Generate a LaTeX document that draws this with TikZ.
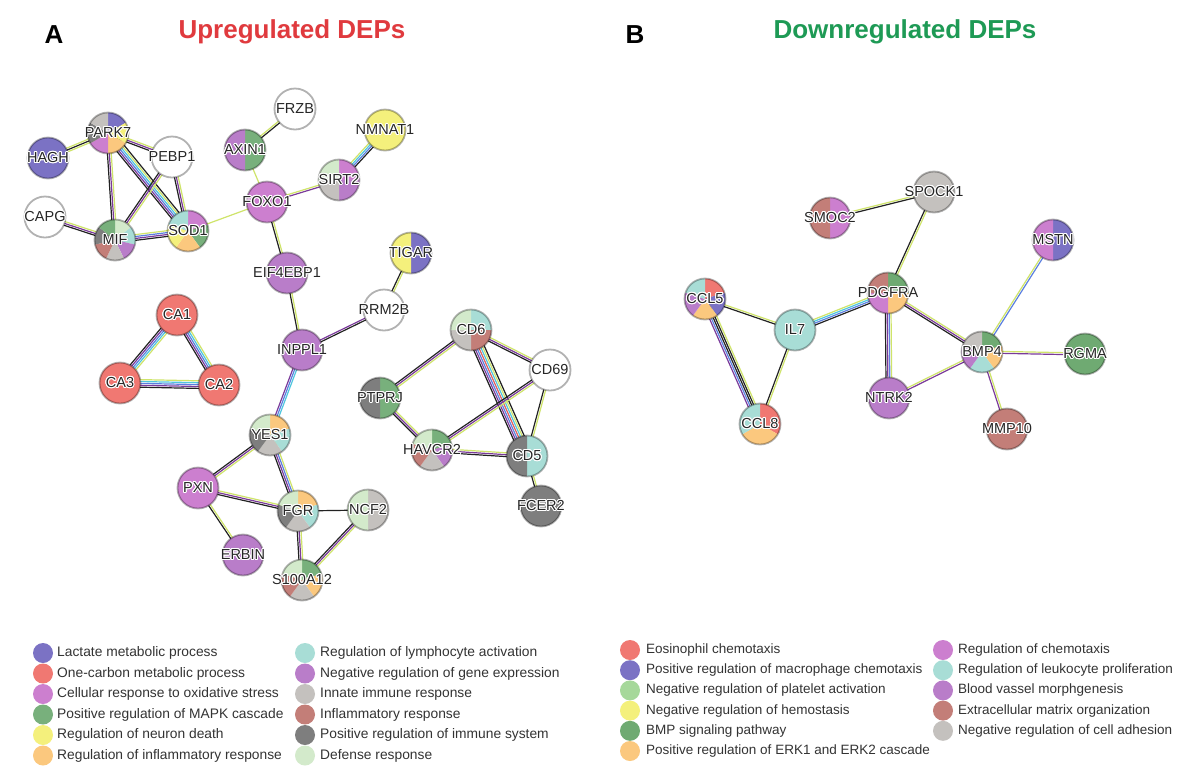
\documentclass[tikz,border=0pt]{standalone}
\usepackage{fontspec}
\setmainfont{Liberation Sans}
\usepackage{contour}
\contourlength{1pt}
\usetikzlibrary{calc,backgrounds}
% legend / sector colours
\definecolor{lact}{HTML}{7B72C4}
\definecolor{onec}{HTML}{F07872}
\definecolor{cell}{HTML}{CC7FCF}
\definecolor{mapk}{HTML}{78B07C}
\definecolor{neur}{HTML}{F4F07C}
\definecolor{orng}{HTML}{FBC87E}
\definecolor{lymp}{HTML}{A8DDD6}
\definecolor{ngen}{HTML}{B97DC9}
\definecolor{inna}{HTML}{C4C1BE}
\definecolor{infl}{HTML}{C37E78}
\definecolor{dgry}{HTML}{7E7E7E}
\definecolor{defe}{HTML}{D3EACB}
\definecolor{plat}{HTML}{A6D89A}
\definecolor{bmpg}{HTML}{6FAA72}
% edge colours
\definecolor{ek}{HTML}{222222}
\definecolor{ep}{HTML}{7A3A9A}
\definecolor{et}{HTML}{CFE46A}
\definecolor{eb}{HTML}{5B7FE0}
\definecolor{ec}{HTML}{4FC6DE}
\definecolor{er}{HTML}{E06060}
\definecolor{uptitle}{HTML}{E03A3E}
\definecolor{dntitle}{HTML}{1E9A55}
\definecolor{legtext}{HTML}{333333}
\newcommand\lbl[1]{\makebox[0pt]{\contour{white}{#1}}}
\newcommand\edgeset[3]{%
  \foreach \col [count=\i] in {#3} {\xdef\nstr{\i}}%
  \foreach \col [count=\i] in {#3} {%
    \pgfmathsetlengthmacro\off{(\i-(\nstr+1)/2)*1.9pt}%
    \draw[color=\col, line width=1.2pt] ($(#1.center)!\off!90:(#2.center)$) -- ($(#2.center)!\off!-90:(#1.center)$);
  }}
\tikzset{
  pie/.style={path picture={
    \foreach \col [count=\i] in {#1} {\xdef\npie{\i}}
    \foreach \col [count=\i] in {#1} {
      \pgfmathsetmacro\aa{90-(\i-1)*360/\npie}
      \pgfmathsetmacro\ss{360/\npie}
      \fill[color=\col] (path picture bounding box.center) -- ++(\aa:40pt) -- ($(path picture bounding box.center)+(\aa-\ss/4:40pt)$)
        -- ($(path picture bounding box.center)+(\aa-\ss/2:40pt)$) -- ($(path picture bounding box.center)+(\aa-3*\ss/4:40pt)$)
        -- ($(path picture bounding box.center)+(\aa-\ss:40pt)$) -- cycle;
    }}},
  prot/.style={circle, minimum size=41pt, inner sep=0pt, draw=black, draw opacity=0.3, line width=1.8pt,
    font=\fontsize{14.5}{15}\selectfont, text=black!85, pie={#1}},
  legdot/.style={circle, minimum size=20pt, inner sep=0pt, fill=#1},
  legtxtA/.style={anchor=west, inner sep=0pt, text=legtext, font=\fontsize{13.8}{14}\selectfont},
  legtxtB/.style={anchor=west, inner sep=0pt, text=legtext, font=\fontsize{13.5}{14}\selectfont},
  ttl/.style={font=\bfseries\fontsize{26}{28}\selectfont}
}
\begin{document}
\begin{tikzpicture}[x=1pt,y=-1pt]
\useasboundingbox (0,0) rectangle (1200,772);
% titles
\node[ttl] (tA) at (54,35) {A};
\node[ttl, text=uptitle] (tUp) at (292,32) {Upregulated DEPs};
\node[ttl] (tB) at (635,35) {B};
\node[ttl, text=dntitle] (tDn) at (905,32) {Downregulated DEPs};
% ---------------- network A
\node[prot={lact}] (HAGH) at (48,158) {\lbl{HAGH}};
\node[prot={lact,neur,orng,cell,dgry,inna}] (PARK7) at (108,133) {\lbl{PARK7}};
\node[prot={white}] (PEBP1) at (172,157) {\lbl{PEBP1}};
\node[prot={white}] (CAPG) at (45,217) {\lbl{CAPG}};
\node[prot={defe,lymp,ngen,inna,infl,dgry,mapk}] (MIF) at (115,240) {\lbl{MIF}};
\node[prot={cell,mapk,orng,neur,lymp}] (SOD1) at (188,231) {\lbl{SOD1}};
\node[prot={mapk,ngen}] (AXIN1) at (245,150) {\lbl{AXIN1}};
\node[prot={white}] (FRZB) at (295,109) {\lbl{FRZB}};
\node[prot={neur}] (NMNAT1) at (385,130) {\lbl{NMNAT1}};
\node[prot={cell,ngen,inna,defe}] (SIRT2) at (339,180) {\lbl{SIRT2}};
\node[prot={cell}] (FOXO1) at (267,202) {\lbl{FOXO1}};
\node[prot={ngen}] (EIF4EBP1) at (287,273) {\lbl{EIF4EBP1}};
\node[prot={lact,neur}] (TIGAR) at (411,253) {\lbl{TIGAR}};
\node[prot={white}] (RRM2B) at (384,310) {\lbl{RRM2B}};
\node[prot={ngen}] (INPPL1) at (302,350) {\lbl{INPPL1}};
\node[prot={onec}] (CA1) at (177,315) {\lbl{CA1}};
\node[prot={onec}] (CA3) at (120,383) {\lbl{CA3}};
\node[prot={onec}] (CA2) at (219,385) {\lbl{CA2}};
\node[prot={lymp,infl,inna,defe}] (CD6) at (471,330) {\lbl{CD6}};
\node[prot={white}] (CD69) at (550,370) {\lbl{CD69}};
\node[prot={mapk,dgry}] (PTPRJ) at (380,398) {\lbl{PTPRJ}};
\node[prot={mapk,ngen,inna,infl,defe}] (HAVCR2) at (432,450) {\lbl{HAVCR2}};
\node[prot={lymp,dgry}] (CD5) at (527,456) {\lbl{CD5}};
\node[prot={dgry}] (FCER2) at (541,506) {\lbl{FCER2}};
\node[prot={orng,lymp,inna,dgry,defe}] (YES1) at (270,435) {\lbl{YES1}};
\node[prot={cell}] (PXN) at (198,488) {\lbl{PXN}};
\node[prot={orng,lymp,inna,dgry,defe}] (FGR) at (298,511) {\lbl{FGR}};
\node[prot={inna,defe}] (NCF2) at (368,510) {\lbl{NCF2}};
\node[prot={ngen}] (ERBIN) at (243,555) {\lbl{ERBIN}};
\node[prot={mapk,orng,inna,infl,defe}] (S100A12) at (302,580) {\lbl{S100A12}};
% ---------------- network B
\node[prot={inna}] (SPOCK1) at (934,192) {\lbl{SPOCK1}};
\node[prot={cell,infl}] (SMOC2) at (830,218) {\lbl{SMOC2}};
\node[prot={lact,cell}] (MSTN) at (1053,240) {\lbl{MSTN}};
\node[prot={onec,lact,orng,ngen,lymp}] (CCL5) at (705,299) {\lbl{CCL5}};
\node[prot={lymp}] (IL7) at (795,330) {\lbl{IL7}};
\node[prot={bmpg,orng,cell,infl}] (PDGFRA) at (888,293) {\lbl{PDGFRA}};
\node[prot={bmpg,orng,lymp,ngen,inna}] (BMP4) at (982,352) {\lbl{BMP4}};
\node[prot={bmpg}] (RGMA) at (1085,354) {\lbl{RGMA}};
\node[prot={ngen}] (NTRK2) at (889,398) {\lbl{NTRK2}};
\node[prot={onec,orng,lymp}] (CCL8) at (760,424) {\lbl{CCL8}};
\node[prot={infl}] (MMP10) at (1007,429) {\lbl{MMP10}};
% ---------------- edges
\begin{pgfonlayer}{background}
\fill[white] (0,0) rectangle (1200,772);
\edgeset{HAGH}{PARK7}{et,ek,et}
\edgeset{PARK7}{PEBP1}{ek,ep,et}
\edgeset{PARK7}{MIF}{ek,ep,et}
\edgeset{PARK7}{SOD1}{ek,ep,eb,ec,et,ek}
\edgeset{PEBP1}{MIF}{ek,ep,et}
\edgeset{PEBP1}{SOD1}{ek,ep,et}
\edgeset{CAPG}{MIF}{ek,ep,et}
\edgeset{MIF}{SOD1}{ek,ep,eb,et}
\edgeset{SOD1}{FOXO1}{et}
\edgeset{AXIN1}{FRZB}{ek,et}
\edgeset{AXIN1}{FOXO1}{et}
\edgeset{FOXO1}{SIRT2}{ep,et}
\edgeset{SIRT2}{NMNAT1}{ek,eb,ec,et}
\edgeset{FOXO1}{EIF4EBP1}{ek,et}
\edgeset{TIGAR}{RRM2B}{ek,et}
\edgeset{EIF4EBP1}{INPPL1}{ek,et}
\edgeset{INPPL1}{RRM2B}{ek,ep}
\edgeset{INPPL1}{YES1}{ep,eb,ec}
\edgeset{CA1}{CA3}{ek,ep,eb,ec,et}
\edgeset{CA1}{CA2}{ek,ep,eb,ec,et}
\edgeset{CA3}{CA2}{ek,ep,eb,ec,et}
\edgeset{CD6}{PTPRJ}{ek,ep,et}
\edgeset{CD6}{CD69}{ek,ep,et}
\edgeset{CD6}{CD5}{ek,ep,eb,er,ec,et,ek}
\edgeset{CD69}{HAVCR2}{ek,ep,et}
\edgeset{CD69}{CD5}{ek,et}
\edgeset{PTPRJ}{HAVCR2}{ek,ep,et}
\edgeset{HAVCR2}{CD5}{ek,ep,et}
\edgeset{CD5}{FCER2}{ek,et}
\edgeset{YES1}{PXN}{ek,ep,et}
\edgeset{YES1}{FGR}{ek,ep,eb,et}
\edgeset{PXN}{FGR}{ek,ep,et}
\edgeset{PXN}{ERBIN}{ek,et}
\edgeset{FGR}{NCF2}{ek}
\edgeset{FGR}{S100A12}{ek,ep,et}
\edgeset{NCF2}{S100A12}{ek,ep,et}
\edgeset{SMOC2}{SPOCK1}{ek,et}
\edgeset{SPOCK1}{PDGFRA}{ek,et}
\edgeset{CCL5}{IL7}{ek,et}
\edgeset{CCL5}{CCL8}{ep,eb,ek,ek,et}
\edgeset{IL7}{CCL8}{ek,et}
\edgeset{IL7}{PDGFRA}{ek,eb,ec,et}
\edgeset{PDGFRA}{BMP4}{ek,ep,et}
\edgeset{PDGFRA}{NTRK2}{ek,ep,eb,et}
\edgeset{NTRK2}{BMP4}{ep,et}
\edgeset{BMP4}{MSTN}{eb,et}
\edgeset{BMP4}{RGMA}{ep,et}
\edgeset{BMP4}{MMP10}{ep,et}
\end{pgfonlayer}
% ---------------- legend A
\node[legdot=lact] (la1) at (43,653) {};
\node[legtxtA] (lta1) at (57,653) {Lactate metabolic process};
\node[legdot=onec] (la2) at (43,673.5) {};
\node[legtxtA] (lta2) at (57,673.5) {One-carbon metabolic process};
\node[legdot=cell] (la3) at (43,694) {};
\node[legtxtA] (lta3) at (57,694) {Cellular response to oxidative stress};
\node[legdot=mapk] (la4) at (43,714.5) {};
\node[legtxtA] (lta4) at (57,714.5) {Positive regulation of MAPK cascade};
\node[legdot=neur] (la5) at (43,735) {};
\node[legtxtA] (lta5) at (57,735) {Regulation of neuron death};
\node[legdot=orng] (la6) at (43,755.5) {};
\node[legtxtA] (lta6) at (57,755.5) {Regulation of inflammatory response};
\node[legdot=lymp] (lb1) at (305,653) {};
\node[legtxtA] (ltb1) at (320,653) {Regulation of lymphocyte activation};
\node[legdot=ngen] (lb2) at (305,673.5) {};
\node[legtxtA] (ltb2) at (320,673.5) {Negative regulation of gene expression};
\node[legdot=inna] (lb3) at (305,694) {};
\node[legtxtA] (ltb3) at (320,694) {Innate immune response};
\node[legdot=infl] (lb4) at (305,714.5) {};
\node[legtxtA] (ltb4) at (320,714.5) {Inflammatory response};
\node[legdot=dgry] (lb5) at (305,735) {};
\node[legtxtA] (ltb5) at (320,735) {Positive regulation of immune system};
\node[legdot=defe] (lb6) at (305,755.5) {};
\node[legtxtA] (ltb6) at (320,755.5) {Defense response};
% ---------------- legend B
\node[legdot=onec] (lc1) at (630,650) {};
\node[legtxtB] (ltc1) at (646,650) {Eosinophil chemotaxis};
\node[legdot=lact] (lc2) at (630,670.2) {};
\node[legtxtB] (ltc2) at (646,670.2) {Positive regulation of macrophage chemotaxis};
\node[legdot=plat] (lc3) at (630,690.4) {};
\node[legtxtB] (ltc3) at (646,690.4) {Negative regulation of platelet activation};
\node[legdot=neur] (lc4) at (630,710.6) {};
\node[legtxtB] (ltc4) at (646,710.6) {Negative regulation of hemostasis};
\node[legdot=bmpg] (lc5) at (630,730.8) {};
\node[legtxtB] (ltc5) at (646,730.8) {BMP signaling pathway};
\node[legdot=orng] (lc6) at (630,751) {};
\node[legtxtB] (ltc6) at (646,751) {Positive regulation of ERK1 and ERK2 cascade};
\node[legdot=cell] (ld1) at (943,650) {};
\node[legtxtB] (ltd1) at (958,650) {Regulation of chemotaxis};
\node[legdot=lymp] (ld2) at (943,670.2) {};
\node[legtxtB] (ltd2) at (958,670.2) {Regulation of leukocyte proliferation};
\node[legdot=ngen] (ld3) at (943,690.4) {};
\node[legtxtB] (ltd3) at (958,690.4) {Blood vassel morphgenesis};
\node[legdot=infl] (ld4) at (943,710.6) {};
\node[legtxtB] (ltd4) at (958,710.6) {Extracellular matrix organization};
\node[legdot=inna] (ld5) at (943,730.8) {};
\node[legtxtB] (ltd5) at (958,730.8) {Negative regulation of cell adhesion};
\end{tikzpicture}
\end{document}
